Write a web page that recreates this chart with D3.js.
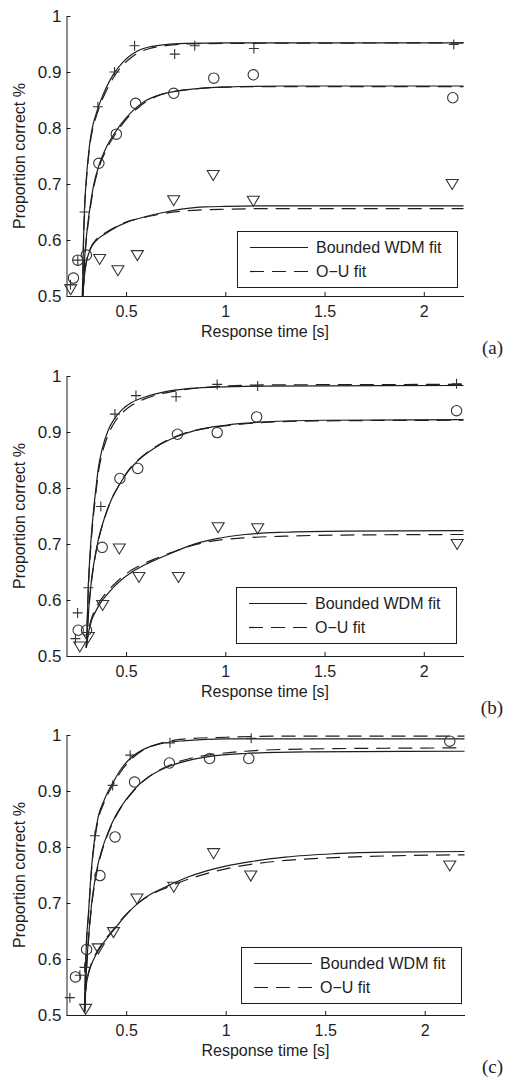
<!DOCTYPE html>
<html><head><meta charset="utf-8">
<script src="https://cdn.jsdelivr.net/npm/d3@7"></script>
<style>body{margin:0;background:#fff}svg{display:block}</style>
</head><body>
<svg id="chart" width="507" height="1083"></svg>
<script>
// ---------- data ----------
const xDomain = [0.2, 2.2];
const yDomain = [0.5, 1];
const xTicks = [0.5, 1, 1.5, 2];
const xTickLabels = ["0.5", "1", "1.5", "2"];
const yTicks = [0.5, 0.6, 0.7, 0.8, 0.9, 1];
const yTickLabels = ["0.5", "0.6", "0.7", "0.8", "0.9", "1"];
const xTitle = "Response time [s]";
const yTitle = "Proportion correct %";
const legendLabels = ["Bounded WDM fit", "O\u2212U fit"];
const panelLabels = ["(a)", "(b)", "(c)"];

// Panel (a)
const aPlus = [[0.220,0.520],[0.257,0.564],[0.291,0.650],[0.358,0.838],[0.442,0.900],[0.543,0.947],[0.745,0.932],[0.846,0.947],[1.144,0.942],[2.151,0.949]];
const aCircle = [[0.235,0.532],[0.257,0.564],[0.300,0.573],[0.363,0.737],[0.451,0.789],[0.548,0.844],[0.740,0.862],[0.942,0.889],[1.141,0.895],[2.146,0.854]];
const aTriangle = [[0.221,0.512],[0.367,0.566],[0.459,0.546],[0.557,0.573],[0.740,0.671],[0.939,0.716],[1.141,0.670],[2.143,0.700]];
const aPlusWDM = [[0.280,0.500],[0.285,0.590],[0.290,0.650],[0.300,0.710],[0.310,0.750],[0.320,0.780],[0.335,0.808],[0.350,0.826],[0.360,0.837],[0.380,0.856],[0.400,0.872],[0.440,0.898],[0.480,0.916],[0.520,0.929],[0.560,0.938],[0.620,0.945],[0.700,0.949],[0.800,0.951],[1.000,0.952],[2.200,0.952]];
const aPlusOU = [[0.280,0.500],[0.285,0.585],[0.290,0.645],[0.300,0.705],[0.310,0.745],[0.320,0.775],[0.335,0.803],[0.350,0.821],[0.360,0.832],[0.380,0.851],[0.400,0.866],[0.440,0.892],[0.480,0.911],[0.520,0.924],[0.560,0.934],[0.620,0.942],[0.700,0.947],[0.800,0.950],[1.000,0.951],[2.200,0.952]];
const aCircleWDM = [[0.283,0.500],[0.290,0.560],[0.300,0.605],[0.315,0.650],[0.335,0.695],[0.365,0.735],[0.400,0.765],[0.450,0.795],[0.500,0.818],[0.550,0.836],[0.600,0.849],[0.650,0.857],[0.740,0.865],[0.850,0.870],[1.000,0.873],[1.300,0.875],[2.200,0.875]];
const aCircleOU = [[0.283,0.500],[0.290,0.555],[0.300,0.600],[0.315,0.645],[0.335,0.690],[0.365,0.731],[0.400,0.761],[0.450,0.791],[0.500,0.815],[0.550,0.833],[0.600,0.847],[0.650,0.856],[0.740,0.865],[0.850,0.870],[1.000,0.873],[1.300,0.874],[2.200,0.874]];
const aTriWDM = [[0.283,0.505],[0.290,0.535],[0.300,0.560],[0.320,0.583],[0.350,0.599],[0.400,0.612],[0.450,0.623],[0.500,0.631],[0.550,0.637],[0.600,0.642],[0.700,0.650],[0.800,0.656],[0.900,0.659],[1.000,0.660],[1.200,0.661],[2.200,0.661]];
const aTriOU = [[0.283,0.505],[0.290,0.537],[0.300,0.562],[0.320,0.585],[0.350,0.601],[0.400,0.614],[0.450,0.624],[0.500,0.632],[0.550,0.637],[0.600,0.641],[0.700,0.648],[0.800,0.652],[0.900,0.654],[1.000,0.655],[1.200,0.656],[2.200,0.656]];

// Panel (b)
const bPlus = [[0.245,0.531],[0.256,0.577],[0.310,0.622],[0.373,0.767],[0.444,0.932],[0.550,0.965],[0.752,0.963],[0.959,0.985],[1.163,0.982],[2.165,0.986]];
const bCircle = [[0.259,0.546],[0.301,0.546],[0.380,0.694],[0.469,0.817],[0.559,0.835],[0.759,0.896],[0.959,0.899],[1.158,0.927],[2.165,0.938]];
const bTriangle = [[0.267,0.517],[0.310,0.534],[0.382,0.591],[0.466,0.692],[0.565,0.641],[0.764,0.641],[0.964,0.730],[1.163,0.728],[2.168,0.700]];
const bPlusWDM = [[0.300,0.515],[0.305,0.570],[0.310,0.625],[0.320,0.690],[0.335,0.755],[0.350,0.805],[0.360,0.835],[0.380,0.870],[0.410,0.903],[0.440,0.923],[0.480,0.940],[0.530,0.953],[0.600,0.963],[0.700,0.972],[0.800,0.977],[0.950,0.980],[1.200,0.982],[2.200,0.983]];
const bPlusOU = [[0.300,0.515],[0.305,0.565],[0.310,0.618],[0.320,0.683],[0.335,0.748],[0.350,0.797],[0.360,0.826],[0.380,0.862],[0.410,0.895],[0.440,0.916],[0.480,0.934],[0.530,0.948],[0.600,0.960],[0.700,0.970],[0.800,0.976],[0.950,0.981],[1.200,0.984],[2.200,0.985]];
const bCircleWDM = [[0.300,0.515],[0.310,0.575],[0.326,0.636],[0.340,0.670],[0.360,0.707],[0.390,0.745],[0.427,0.780],[0.470,0.808],[0.511,0.830],[0.560,0.849],[0.646,0.872],[0.750,0.891],[0.850,0.903],[1.000,0.912],[1.200,0.918],[1.500,0.921],[2.200,0.922]];
const bCircleOU = [[0.300,0.515],[0.310,0.572],[0.326,0.633],[0.340,0.668],[0.360,0.705],[0.390,0.744],[0.427,0.780],[0.470,0.808],[0.511,0.831],[0.560,0.850],[0.646,0.873],[0.750,0.892],[0.850,0.903],[1.000,0.911],[1.200,0.917],[1.500,0.920],[2.200,0.921]];
const bTriWDM = [[0.300,0.515],[0.310,0.540],[0.325,0.562],[0.343,0.577],[0.370,0.594],[0.400,0.608],[0.440,0.624],[0.480,0.637],[0.530,0.650],[0.590,0.662],[0.650,0.672],[0.730,0.684],[0.830,0.698],[0.950,0.709],[1.100,0.717],[1.300,0.721],[1.600,0.723],[2.200,0.724]];
const bTriOU = [[0.300,0.515],[0.310,0.543],[0.325,0.566],[0.343,0.582],[0.370,0.599],[0.400,0.613],[0.440,0.628],[0.480,0.641],[0.530,0.654],[0.590,0.665],[0.650,0.674],[0.730,0.685],[0.830,0.697],[0.950,0.706],[1.100,0.711],[1.300,0.714],[1.600,0.716],[2.200,0.717]];

// Panel (c)
const cPlus = [[0.217,0.531],[0.267,0.571],[0.291,0.585],[0.343,0.820],[0.432,0.910],[0.520,0.964],[0.720,0.986],[1.128,0.994]];
const cCircle = [[0.245,0.568],[0.301,0.617],[0.368,0.749],[0.444,0.818],[0.542,0.916],[0.717,0.950],[0.919,0.958],[1.116,0.958],[2.126,0.989]];
const cTriangle = [[0.296,0.511],[0.360,0.619],[0.436,0.648],[0.554,0.708],[0.739,0.729],[0.939,0.789],[1.126,0.749],[2.126,0.767]];
const cPlusWDM = [[0.290,0.505],[0.295,0.580],[0.300,0.630],[0.310,0.680],[0.325,0.760],[0.343,0.820],[0.360,0.855],[0.385,0.880],[0.410,0.900],[0.432,0.914],[0.470,0.937],[0.520,0.958],[0.580,0.973],[0.680,0.985],[0.800,0.990],[1.000,0.993],[2.200,0.993]];
const cPlusOU = [[0.290,0.505],[0.295,0.575],[0.300,0.625],[0.310,0.675],[0.325,0.755],[0.343,0.815],[0.360,0.850],[0.385,0.876],[0.410,0.896],[0.432,0.910],[0.470,0.933],[0.520,0.955],[0.580,0.972],[0.680,0.986],[0.800,0.993],[1.000,0.996],[1.300,0.998],[2.200,0.998]];
const cCircleWDM = [[0.292,0.505],[0.300,0.580],[0.310,0.635],[0.325,0.695],[0.343,0.741],[0.360,0.772],[0.377,0.794],[0.410,0.827],[0.444,0.854],[0.480,0.875],[0.511,0.890],[0.560,0.910],[0.612,0.925],[0.670,0.937],[0.730,0.946],[0.830,0.956],[0.950,0.963],[1.100,0.967],[1.400,0.970],[2.200,0.971]];
const cCircleOU = [[0.292,0.505],[0.300,0.575],[0.310,0.630],[0.325,0.690],[0.343,0.737],[0.360,0.768],[0.377,0.791],[0.410,0.825],[0.444,0.852],[0.480,0.874],[0.511,0.889],[0.560,0.909],[0.612,0.925],[0.670,0.938],[0.730,0.948],[0.830,0.959],[0.950,0.966],[1.100,0.971],[1.400,0.975],[2.200,0.977]];
const cTriWDM = [[0.292,0.530],[0.300,0.555],[0.310,0.573],[0.325,0.590],[0.350,0.609],[0.380,0.626],[0.434,0.650],[0.490,0.675],[0.554,0.698],[0.620,0.715],[0.700,0.729],[0.800,0.745],[0.900,0.757],[1.000,0.766],[1.126,0.774],[1.300,0.782],[1.546,0.788],[1.800,0.791],[2.200,0.792]];
const cTriOU = [[0.292,0.530],[0.300,0.557],[0.310,0.575],[0.325,0.592],[0.350,0.611],[0.380,0.628],[0.434,0.652],[0.490,0.676],[0.554,0.698],[0.620,0.714],[0.700,0.727],[0.800,0.741],[0.900,0.752],[1.000,0.761],[1.126,0.769],[1.300,0.776],[1.546,0.781],[1.800,0.784],[2.200,0.786]];

const panels = [
  {plus:aPlus, circle:aCircle, tri:aTriangle, fits:[[aPlusWDM,aPlusOU],[aCircleWDM,aCircleOU],[aTriWDM,aTriOU]]},
  {plus:bPlus, circle:bCircle, tri:bTriangle, fits:[[bPlusWDM,bPlusOU],[bCircleWDM,bCircleOU],[bTriWDM,bTriOU]]},
  {plus:cPlus, circle:cCircle, tri:cTriangle, fits:[[cPlusWDM,cPlusOU],[cCircleWDM,cCircleOU],[cTriWDM,cTriOU]]}
];

// ---------- layout ----------
const layout = [
  {top:16,  right:463.5, legend:{x:237, y:231}},
  {top:376, right:463.5, legend:{x:236, y:587}},
  {top:735, right:464.5, legend:{x:241, y:947}}
];
const LEFT = 66.5, H = 280;
const INK = "#1e1e1e";
const FONT = "'Liberation Sans', Arial, Helvetica, sans-serif";
const DASH = "14,8";

const svg = d3.select("#chart");
svg.append("rect").attr("width",507).attr("height",1083).attr("fill","#fff");

panels.forEach((p, i) => {
  const L = layout[i];
  const top = L.top, bottom = top + H;
  const x = d3.scaleLinear().domain(xDomain).range([LEFT, L.right]);
  const y = d3.scaleLinear().domain(yDomain).range([bottom, top]);
  const g = svg.append("g");

  // axes
  const ax = g.append("g").attr("transform", `translate(0,${bottom})`)
    .call(d3.axisBottom(x).tickValues(xTicks).tickFormat((d,k)=>xTickLabels[k])
      .tickSizeInner(-4).tickSizeOuter(0).tickPadding(10));
  const ay = g.append("g").attr("transform", `translate(${LEFT},0)`)
    .call(d3.axisLeft(y).tickValues(yTicks).tickFormat((d,k)=>yTickLabels[k])
      .tickSizeInner(-4).tickSizeOuter(0).tickPadding(5));
  [ax, ay].forEach(a => {
    a.select(".domain").attr("stroke", INK).attr("stroke-width", 1);
    a.selectAll(".tick line").attr("stroke", INK).attr("stroke-width", 1);
    a.selectAll(".tick text").attr("fill", INK).style("font-family", FONT);
  });
  ax.selectAll(".tick text").style("font-size", "16px");
  ay.selectAll(".tick text").style("font-size", "17px");

  // titles
  g.append("text").attr("x", (LEFT + L.right)/2).attr("y", bottom + 41)
    .attr("text-anchor","middle").attr("fill",INK)
    .style("font-family",FONT).style("font-size","16px").text(xTitle);
  g.append("text").attr("transform", `translate(25,${(top+bottom)/2}) rotate(-90)`)
    .attr("text-anchor","middle").attr("fill",INK)
    .style("font-family",FONT).style("font-size","16px").text(yTitle);
  g.append("text").attr("x", 503).attr("y", bottom + 58)
    .attr("text-anchor","end").attr("fill",INK)
    .style("font-family","'Liberation Serif', 'DejaVu Serif', serif").style("font-size","19px")
    .text(panelLabels[i]);

  // fitted curves
  const line = d3.line().x(d => x(d[0])).y(d => y(d[1])).curve(d3.curveMonotoneX);
  p.fits.forEach(pair => {
    g.append("path").attr("d", line(pair[0])).attr("fill","none")
      .attr("stroke", INK).attr("stroke-width", 1.2);
    g.append("path").attr("d", line(pair[1])).attr("fill","none")
      .attr("stroke", INK).attr("stroke-width", 1.2).attr("stroke-dasharray", DASH);
  });

  // markers
  const mk = g.append("g").attr("fill","none").attr("stroke","#333").attr("stroke-width",1.1);
  mk.selectAll(".plus").data(p.plus).join("path")
    .attr("d", d => `M${x(d[0])-5},${y(d[1])}h10M${x(d[0])},${y(d[1])-5}v10`);
  mk.selectAll(".circ").data(p.circle).join("circle")
    .attr("cx", d => x(d[0])).attr("cy", d => y(d[1])).attr("r", 5.2);
  mk.selectAll(".tri").data(p.tri).join("path")
    .attr("d", d => { const cx = x(d[0]), cy = y(d[1]);
      return `M${cx-6},${cy-4.5}L${cx+6},${cy-4.5}L${cx},${cy+5.5}Z`; });

  // legend
  const lg = g.append("g").attr("transform", `translate(${L.legend.x},${L.legend.y})`);
  lg.append("rect").attr("x",0.5).attr("y",0.5).attr("width",220).attr("height",56)
    .attr("fill","#fff").attr("stroke",INK).attr("stroke-width",1);
  legendLabels.forEach((lab, k) => {
    const ly = 16.5 + k*24;
    lg.append("line").attr("x1",13).attr("x2",71).attr("y1",ly).attr("y2",ly)
      .attr("stroke",INK).attr("stroke-width",1.2)
      .attr("stroke-dasharray", k === 1 ? DASH : null);
    lg.append("text").attr("x",79).attr("y",ly).attr("dy","0.36em").attr("fill",INK)
      .style("font-family",FONT).style("font-size","16px").text(lab);
  });
});
</script>
</body></html>
